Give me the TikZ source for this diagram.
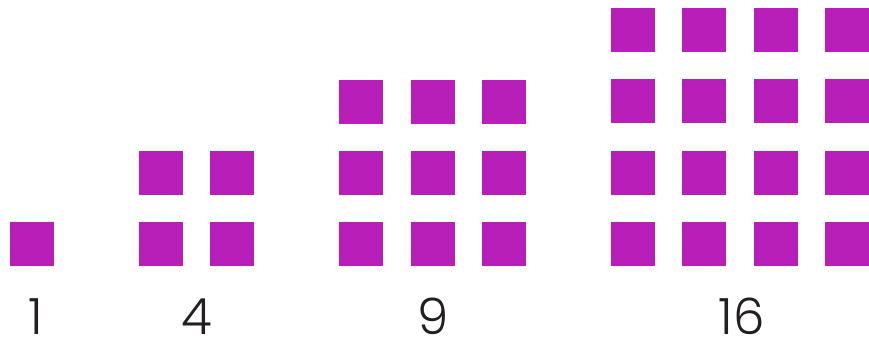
\documentclass[tikz,border=0pt]{standalone}
\usepackage{fontspec}
\setmainfont{Poppins}[UprightFont=* Light]
\definecolor{sq}{HTML}{B81EB8}
\definecolor{ink}{HTML}{231F20}
\begin{document}
\begin{tikzpicture}[x=1pt,y=-1pt,
  sqr/.style={fill=sq,draw=none,minimum size=44pt,inner sep=0pt,outer sep=0pt,anchor=north west},
  num/.style={text=ink,font=\fontsize{50}{50}\selectfont,anchor=base,inner sep=0pt}]
\useasboundingbox (0,0) rectangle (869,339);
% group 1
\node[sqr] (a11) at (10,222) {};
% group 4
\foreach \i/\x in {1/139,2/210}{
  \foreach \j/\y in {1/151,2/222}{
    \node[sqr] (b\i\j) at (\x,\y) {};
  }}
% group 9
\foreach \i/\x in {1/339,2/411,3/482}{
  \foreach \j/\y in {1/80,2/151,3/222}{
    \node[sqr] (c\i\j) at (\x,\y) {};
  }}
% group 16
\foreach \i/\x in {1/611,2/682,3/754,4/825}{
  \foreach \j/\y in {1/8,2/79,3/151,4/222}{
    \node[sqr] (d\i\j) at (\x,\y) {};
  }}
\node[num] (l1) at (36,334) {1};
\node[num] (l4) at (197,334) {4};
\node[num] (l9) at (433,334) {9};
\node[num] (l16) at (742,334) {16};
\end{tikzpicture}
\end{document}
